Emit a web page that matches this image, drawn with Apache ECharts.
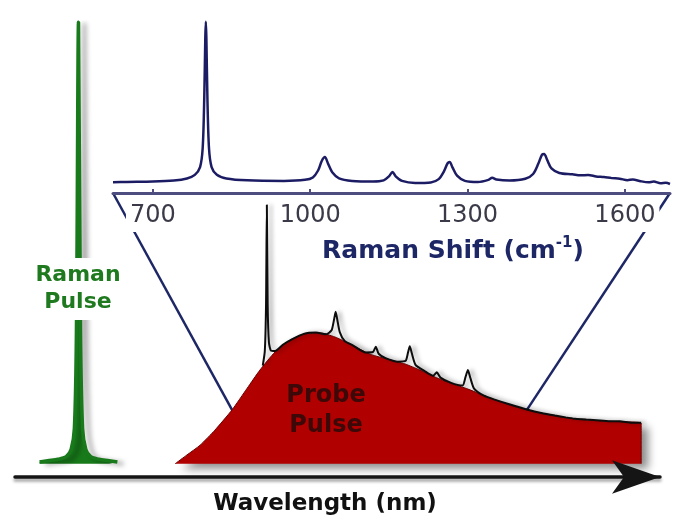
<!DOCTYPE html>
<html><head><meta charset="utf-8">
<script src="https://cdn.jsdelivr.net/npm/echarts@6.0.0/dist/echarts.min.js"></script>
<style>html,body{margin:0;padding:0;background:#fff}#c{width:683px;height:521px}</style>
</head><body><div id="c"></div>
<script>
// Raman shift tick labels (cm-1)
const shiftTicks = [700, 1000, 1300, 1600];
const shiftRange = [624, 1686];
// Top Raman spectrum: [shift cm-1, intensity]
const ramanSpectrum = [
 [624,6.2],[650,6.4],[700,6.6],[740,7.2],[765,8.4],[780,10.5],[790,15],[795,26],[798,55],[800,90],[801,99],[802,90],[804,55],[807,26],[812,15],[822,10.5],[840,8.4],[880,7.3],[950,7.0],[990,7.6],[1005,9],[1015,13],[1022,18.5],[1028,20.8],[1034,17],[1042,12],[1055,8.5],[1080,7],[1120,6.6],[1140,7.3],[1150,9.6],[1157,12.1],[1163,9.6],[1175,7],[1200,5.8],[1230,6.1],[1245,8],[1255,12.5],[1262,17.2],[1266,17.9],[1271,15],[1280,10],[1295,7],[1320,6.3],[1340,7.6],[1347,8.8],[1355,7.8],[1380,7.2],[1410,8.2],[1425,11],[1435,17],[1442,22.2],[1446,22.5],[1452,19],[1460,14.2],[1475,11.6],[1500,10.8],[1515,10.2],[1530,10.4],[1545,9.6],[1560,9.2],[1575,8.6],[1590,8.3],[1605,7.4],[1615,7.8],[1630,6.8],[1645,6.2],[1655,6.6],[1668,5.6],[1678,5.9],[1686,5.2]
];
// Raman pump pulse: [wavelength nm, intensity]
const ramanPulse = [
 [793.5,0.4],[795.5,0.7],[798,1.0],[800,1.6],[801.2,3.2],[802,8],[802.5,30],[803,100],[803.5,30],[804,8],[804.8,3.2],[806,1.6],[808,1.0],[810.5,0.7],[812.5,0.4]
];
// Probe pulse envelope: [wavelength nm, intensity]
const probeEnvelope = [
 [826.6,0],[829.5,2.0],[832.7,4.2],[836.3,7.6],[840.5,12.2],[844.2,17.1],[847.3,21.2],[851.0,25.3],[854.7,28.0],[858.3,29.4],[862.0,29.6],[865.6,28.7],[869.3,27.1],[874.2,24.8],[879.1,23.5],[882.7,22.6],[886.4,21.2],[890.1,19.6],[893.7,18.3],[898.1,16.9],[904.0,14.7],[908.4,13.3],[912.5,12.2],[919.4,10.8],[924.3,10.1],[930.4,9.7],[935.2,9.5],[940.4,9.2],[940.4,0]
];
// Probe spectrum with Raman gain features: [wavelength nm, intensity]
const probeSpectrum = [
 [848.0,22.2],[848.5,25.5],[848.8,36],[849.0,58.6],[849.2,36],[849.5,27.5],[850.0,25.6],[851.0,25.5],[853,27.0],[855,28.1],[858,29.4],[861,29.7],[863.5,29.3],[864.8,30.2],[865.4,32.6],[865.8,34.4],[866.2,32.6],[866.8,29.8],[868,27.8],[870,26.8],[873,25.2],[874.9,25.3],[875.6,26.5],[876.3,24.9],[878,23.9],[881,23.1],[882.9,23.3],[883.5,25.3],[883.9,26.6],[884.4,25.0],[885.3,22.4],[887.5,21.0],[889.6,19.9],[890.5,20.7],[891.4,19.5],[894,18.3],[896.8,17.7],[897.5,19.6],[898.1,21.2],[898.7,19.4],[899.6,17.0],[902,15.4],[905,14.4],[908.4,13.4],[912.5,12.3],[916,11.5],[919.4,10.9],[922,10.5],[924.3,10.2],[927,10.0],[930.4,9.8],[933,9.6],[935.2,9.6],[938,9.3],[940.4,9.3]
];
const wavelengthRange = [787.5, 945];
// wavelengths where the zoom lines meet the probe envelope
const zoomLineEnds = [840.5, 912.5];

const chart = echarts.init(document.getElementById('c'), null, {renderer: 'canvas'});
const navy = '#1e2766';
const option = {
  animation: false,
  backgroundColor: '#fff',
  textStyle: {fontFamily: 'DejaVu Sans'},
  grid: [
    {left: 113, right: 13, top: 20, bottom: 328},
    {left: 15, right: 23, top: 22, bottom: 44}
  ],
  xAxis: [
    {gridIndex: 0, type: 'value', min: shiftRange[0], max: shiftRange[1], position: 'bottom', z: 5,
     axisLine: {onZero: false, lineStyle: {color: '#4d4d80', width: 3}},
     axisTick: {customValues: shiftTicks, inside: true, length: 4, lineStyle: {color: '#4d4d80', width: 2}},
     axisLabel: {customValues: shiftTicks, formatter: v => String(v), fontSize: 24, color: '#3a3a48', margin: 9, backgroundColor: '#fff', padding: [2, 4, 4, 4]},
     splitLine: {show: false}},
    {gridIndex: 1, type: 'value', min: wavelengthRange[0], max: wavelengthRange[1], z: 5,
     axisLine: {onZero: false, symbol: ['none', 'arrow'], symbolSize: [25, 48],
       lineStyle: {color: '#151515', width: 3.5, shadowColor: 'rgba(0,0,0,0.35)', shadowBlur: 3, shadowOffsetY: 3}},
     axisTick: {show: false}, axisLabel: {show: false}, splitLine: {show: false}}
  ],
  yAxis: [
    {gridIndex: 0, type: 'value', min: 0, max: 100, show: false},
    {gridIndex: 1, type: 'value', min: -3, max: 100, show: false}
  ],
  series: [
    {type: 'line', xAxisIndex: 0, yAxisIndex: 0, data: ramanSpectrum, symbol: 'none', smooth: 0.3,
     lineStyle: {color: '#1c1c64', width: 2.5}},
    {type: 'line', xAxisIndex: 1, yAxisIndex: 1, data: ramanPulse, symbol: 'none', smooth: 0.3,
     lineStyle: {color: '#187a1a', width: 3.5, shadowColor: 'rgba(0,0,0,0.35)', shadowBlur: 5, shadowOffsetX: 6, shadowOffsetY: 2},
     areaStyle: {color: '#187a1a', opacity: 1, origin: 0}},
    {type: 'line', xAxisIndex: 1, yAxisIndex: 1, data: probeEnvelope, symbol: 'none', smooth: 0.2,
     lineStyle: {color: '#6e0000', width: 1},
     areaStyle: {color: '#b00000', opacity: 1, origin: 0, shadowColor: 'rgba(0,0,0,0.45)', shadowBlur: 8, shadowOffsetX: 7, shadowOffsetY: 5}},
    {type: 'line', xAxisIndex: 1, yAxisIndex: 1, data: probeSpectrum, symbol: 'none', smooth: 0.2, z: 4,
     lineStyle: {color: '#0d0d0d', width: 2, shadowColor: 'rgba(0,0,0,0.3)', shadowBlur: 4, shadowOffsetX: 4}}
  ]
};
chart.setOption(option);

function envAt(w) {
  return probeEnvelope.find(d => d[0] === w);
}
const pL0 = chart.convertToPixel({gridIndex: 0}, [shiftRange[0], 0]);
const pR0 = chart.convertToPixel({gridIndex: 0}, [shiftRange[1], 0]);
const pL1 = chart.convertToPixel({gridIndex: 1}, envAt(zoomLineEnds[0]));
const pR1 = chart.convertToPixel({gridIndex: 1}, envAt(zoomLineEnds[1]));

chart.setOption({
  graphic: [
    {type: 'line', z: 1, shape: {x1: pL0[0], y1: pL0[1], x2: pL1[0], y2: pL1[1]}, style: {stroke: navy, lineWidth: 2.5}},
    {type: 'line', z: 1, shape: {x1: pR0[0], y1: pR0[1], x2: pR1[0], y2: pR1[1]}, style: {stroke: navy, lineWidth: 2.5}},
    {type: 'text', z: 100, x: 78, y: 289, style: {text: 'Raman\nPulse', align: 'center', verticalAlign: 'middle',
      fontSize: 22, fontWeight: 'bold', fontFamily: 'DejaVu Sans', fill: '#1f7a1f', lineHeight: 27, backgroundColor: '#fff', padding: [4, 3]}},
    {type: 'text', z: 100, x: 326, y: 411, style: {text: 'Probe\nPulse', align: 'center', verticalAlign: 'middle',
      fontSize: 24, fontWeight: 'bold', fontFamily: 'DejaVu Sans', fill: '#3d0808', lineHeight: 30}},
    {type: 'text', z: 100, x: 453, y: 251, style: {text: '{a|Raman Shift (cm}{s|-1}{a|)}', align: 'center', verticalAlign: 'middle',
      rich: {a: {fontSize: 25, fontWeight: 'bold', fontFamily: 'DejaVu Sans', fill: navy, lineHeight: 30},
             s: {fontSize: 15, fontWeight: 'bold', fontFamily: 'DejaVu Sans', fill: navy, verticalAlign: 'top', lineHeight: 16}}}},
    {type: 'text', z: 100, x: 325, y: 504, style: {text: 'Wavelength (nm)', align: 'center', verticalAlign: 'middle',
      fontSize: 23, fontWeight: 'bold', fontFamily: 'DejaVu Sans', fill: '#111'}}
  ]
});
</script>
</body></html>
